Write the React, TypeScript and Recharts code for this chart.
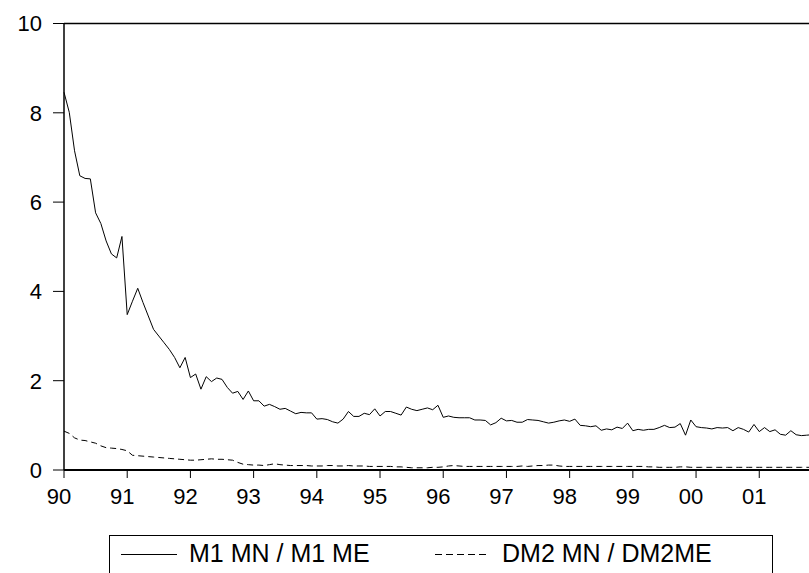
import React from 'react';
import { LineChart, Line, XAxis, YAxis, ReferenceLine } from 'recharts';

const YEAR_LABELS = ['90', '91', '92', '93', '94', '95', '96', '97', '98', '99', '00', '01'];
const Y_TICKS = [0, 2, 4, 6, 8, 10];
const SERIES_NAMES = ['M1 MN / M1 ME', 'DM2 MN / DM2ME'];

// Monthly values 1990:01 - 2001:12
const M1_RATIO = [
  8.46, 8.01, 7.15, 6.59, 6.53, 6.52, 5.76, 5.52, 5.13, 4.84, 4.75, 5.23,
  3.48, 3.78, 4.07, 3.75, 3.45, 3.15, 3.0, 2.85, 2.7, 2.52, 2.29, 2.52,
  2.07, 2.15, 1.81, 2.09, 1.98, 2.06, 2.03, 1.85, 1.72, 1.76, 1.58, 1.77,
  1.55, 1.55, 1.43, 1.47, 1.42, 1.36, 1.38, 1.32, 1.26, 1.29, 1.28, 1.28,
  1.14, 1.15, 1.13, 1.08, 1.05, 1.14, 1.31, 1.2, 1.2, 1.27, 1.24, 1.37,
  1.21, 1.31, 1.31, 1.27, 1.23, 1.41, 1.36, 1.33, 1.36, 1.39, 1.35, 1.45,
  1.18, 1.21, 1.18, 1.17, 1.17, 1.17, 1.12, 1.12, 1.11, 1.01, 1.06, 1.16,
  1.1, 1.11, 1.07, 1.07, 1.13, 1.12, 1.11, 1.08, 1.05, 1.07, 1.1, 1.12,
  1.09, 1.14, 1.0, 0.99, 0.97, 0.99, 0.89, 0.92, 0.9, 0.96, 0.93, 1.05,
  0.88, 0.91, 0.89, 0.91, 0.91, 0.95, 1.0, 0.95, 0.96, 1.04, 0.78, 1.12,
  0.97, 0.95, 0.94, 0.92, 0.95, 0.94, 0.95, 0.88, 0.95, 0.91, 0.85, 1.02,
  0.86, 0.95, 0.86, 0.9, 0.8, 0.78, 0.88, 0.79, 0.77, 0.78, 0.79, 0.8,
];

const DM2_RATIO = [
  0.87, 0.82, 0.72, 0.67, 0.66, 0.63, 0.6, 0.54, 0.5, 0.49, 0.48, 0.46,
  0.43, 0.33, 0.32, 0.31, 0.3, 0.29, 0.28, 0.27, 0.26, 0.25, 0.24, 0.23,
  0.22, 0.22, 0.23, 0.24, 0.25, 0.24, 0.24, 0.23, 0.22, 0.17, 0.13, 0.12,
  0.11, 0.11, 0.1, 0.12, 0.14, 0.12, 0.11, 0.1, 0.1, 0.1, 0.1, 0.09,
  0.09, 0.09, 0.1, 0.1, 0.09, 0.09, 0.1, 0.09, 0.09, 0.09, 0.08, 0.08,
  0.08, 0.08, 0.08, 0.07, 0.07, 0.06, 0.05, 0.05, 0.05, 0.05, 0.06, 0.06,
  0.07, 0.09, 0.1, 0.09, 0.08, 0.08, 0.08, 0.08, 0.08, 0.08, 0.08, 0.08,
  0.08, 0.08, 0.08, 0.09, 0.08, 0.09, 0.1, 0.1, 0.11, 0.11, 0.09, 0.08,
  0.08, 0.08, 0.08, 0.08, 0.08, 0.08, 0.08, 0.08, 0.08, 0.08, 0.08, 0.08,
  0.08, 0.08, 0.08, 0.07, 0.07, 0.06, 0.06, 0.06, 0.06, 0.07, 0.07, 0.06,
  0.06, 0.06, 0.06, 0.06, 0.06, 0.06, 0.06, 0.06, 0.06, 0.06, 0.06, 0.06,
  0.06, 0.06, 0.06, 0.06, 0.06, 0.06, 0.06, 0.06, 0.06, 0.06, 0.06, 0.06,
];

const data = M1_RATIO.map((v, i) => ({ i, m1: v, dm2: DM2_RATIO[i] }));
const X_TICKS = YEAR_LABELS.map((_, k) => k * 12);

const FONT = '"Liberation Sans", Arial, sans-serif';

const XTick = (props: any) => {
  const { x, y, payload } = props;
  const label = YEAR_LABELS[Math.round(payload.value / 12)];
  return (
    <text x={x - 5} y={y} dy="0.71em" textAnchor="middle" fontSize={22} fontFamily={FONT} fill="#000">
      {label}
    </text>
  );
};

const LegendBox = () => (
  <div
    style={{
      position: 'absolute',
      left: 109,
      top: 535,
      width: 664,
      height: 60,
      border: '1.5px solid #000',
      background: '#fff',
      boxSizing: 'border-box',
    }}
  >
    <svg width={664} height={60} style={{ position: 'absolute', left: -1.5, top: -1.5 }}>
      <line x1={12} x2={68} y1={19.5} y2={19.5} stroke="#000" strokeWidth={1} />
      <text x={80} y={27} fontSize={25} fontFamily={FONT} fill="#000">{SERIES_NAMES[0]}</text>
      <line x1={326} x2={380} y1={19.5} y2={19.5} stroke="#000" strokeWidth={1} strokeDasharray="7 4" />
      <text x={393} y={27} fontSize={25} fontFamily={FONT} fill="#000">{SERIES_NAMES[1]}</text>
    </svg>
  </div>
);

export default function App() {
  return (
    <div
      style={{
        position: 'fixed',
        left: 0,
        top: 0,
        width: 809,
        height: 573,
        overflow: 'hidden',
        background: '#fff',
      }}
    >
      <div style={{ position: 'absolute', left: 0, top: 0 }}>
        <LineChart
          width={840}
          height={600}
          data={data}
          margin={{ top: 23.5, left: 0, right: 22.8, bottom: 90 }}
        >
          <XAxis
            dataKey="i"
            type="number"
            domain={[0, 143]}
            ticks={X_TICKS}
            height={40}
            tickSize={8}
            tickMargin={10}
            axisLine={{ stroke: '#000', strokeWidth: 2 }}
            tickLine={{ stroke: '#000', strokeWidth: 1 }}
            tick={<XTick />}
            interval={0}
          />
          <YAxis
            type="number"
            domain={[0, 10]}
            ticks={Y_TICKS}
            width={64}
            tickSize={11}
            tickMargin={11}
            axisLine={{ stroke: '#000', strokeWidth: 1.5 }}
            tickLine={{ stroke: '#000', strokeWidth: 1 }}
            tick={{ fontSize: 22, fill: '#000', fontFamily: FONT }}
            interval={0}
          />
          <ReferenceLine y={10} stroke="#000" strokeWidth={1.5} />
          <Line
            type="linear"
            dataKey="m1"
            stroke="#000"
            strokeWidth={1}
            dot={false}
            isAnimationActive={false}
          />
          <Line
            type="linear"
            dataKey="dm2"
            stroke="#000"
            strokeWidth={1}
            strokeDasharray="6 4"
            dot={false}
            isAnimationActive={false}
          />
        </LineChart>
      </div>
      <LegendBox />
    </div>
  );
}
